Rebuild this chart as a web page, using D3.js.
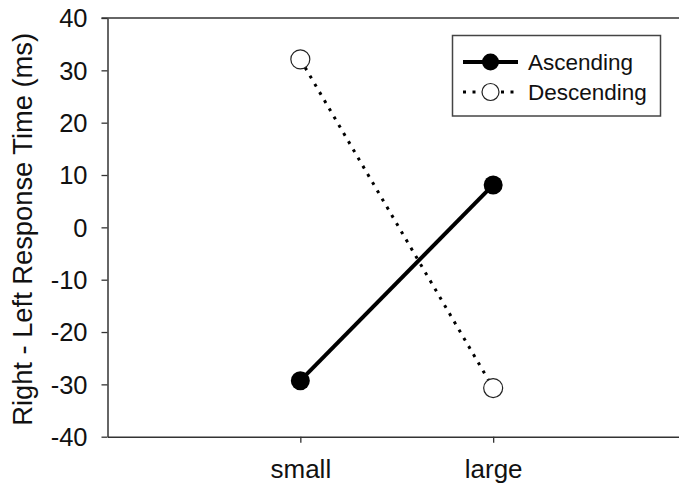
<!DOCTYPE html>
<html>
<head>
<meta charset="utf-8">
<script src="https://cdn.jsdelivr.net/npm/d3@7"></script>
<style>
    body { margin: 0; background: #fff; }
    svg { display: block; font-family: "Liberation Sans", Arial, sans-serif; }
</style>
</head>
<body>
<script>
const categories = ["small", "large"];
const seriesNames = ["Ascending", "Descending"];
const ascendingValues = [-29.3, 8.1];
const descendingValues = [32.1, -30.7];
const yTicks = [40, 30, 20, 10, 0, -10, -20, -30, -40];

const width = 679;
const height = 487;

const svg = d3.select("body").append("svg")
    .attr("width", width)
    .attr("height", height);

const x = d3.scalePoint()
    .domain(categories)
    .range([107.5, 686])
    .padding(1);

const y = d3.scaleLinear()
    .domain([-40, 40])
    .range([436.7, 18]);

// axes
let yAxis = svg.append("g")
    .attr("transform", "translate(107.5,0)")
    .call(d3.axisLeft(y)
        .tickValues(yTicks)
        .tickFormat(d => String(d))
        .tickSize(6).tickPadding(14).tickSizeOuter(0));

yAxis.select(".domain").attr("stroke", "#333").attr("stroke-width", 1.5);
yAxis.selectAll(".tick line").attr("stroke", "#333").attr("stroke-width", 1.3);
yAxis.selectAll(".tick text")
    .attr("fill", "#111")
    .style("font-size", "25.5px")
    .attr("dy", "0.35em");

let xAxis = svg.append("g")
    .attr("transform", "translate(0," + y(-40) + ")")
    .call(d3.axisBottom(x).tickSize(6).tickPadding(17).tickSizeOuter(0));

xAxis.select(".domain").attr("stroke", "#333").attr("stroke-width", 1.5);
xAxis.selectAll(".tick line").attr("stroke", "#333").attr("stroke-width", 1.3);
xAxis.selectAll(".tick text")
    .attr("fill", "#111")
    .style("font-size", "26px");

// top frame line
svg.append("line")
    .attr("x1", 101.5).attr("x2", width)
    .attr("y1", y(40)).attr("y2", y(40))
    .attr("stroke", "#333").attr("stroke-width", 1.5);

// y axis title
svg.append("text")
    .attr("transform", "translate(32," + (y(0) + 2) + ") rotate(-90)")
    .attr("text-anchor", "middle")
    .attr("fill", "#111")
    .style("font-size", "27.3px")
    .text("Right - Left Response Time (ms)");

const line = d3.line()
    .x((d, i) => x(categories[i]))
    .y(d => y(d));

// descending (dotted, open circles)
svg.append("path")
    .datum(descendingValues)
    .attr("d", line)
    .attr("fill", "none")
    .attr("stroke", "#000")
    .attr("stroke-width", 3)
    .attr("stroke-dasharray", "3,6.5");

// ascending (solid, filled circles)
svg.append("path")
    .datum(ascendingValues)
    .attr("d", line)
    .attr("fill", "none")
    .attr("stroke", "#000")
    .attr("stroke-width", 4);

svg.append("g").selectAll("circle")
    .data(descendingValues)
    .enter().append("circle")
    .attr("cx", (d, i) => x(categories[i]))
    .attr("cy", d => y(d))
    .attr("r", 9.5)
    .attr("fill", "#fff")
    .attr("stroke", "#222")
    .attr("stroke-width", 1.2);

svg.append("g").selectAll("circle")
    .data(ascendingValues)
    .enter().append("circle")
    .attr("cx", (d, i) => x(categories[i]))
    .attr("cy", d => y(d))
    .attr("r", 9.5)
    .attr("fill", "#000");

// legend
let legend = svg.append("g");

legend.append("rect")
    .attr("x", 452.5).attr("y", 35.5)
    .attr("width", 208).attr("height", 80.5)
    .attr("fill", "#fff")
    .attr("stroke", "#444")
    .attr("stroke-width", 1.5);

const legendRows = [
    { name: seriesNames[0], y: 62, dash: null, width: 4, fill: "#000", stroke: "none" },
    { name: seriesNames[1], y: 92, dash: "3,6.5", width: 3, fill: "#fff", stroke: "#222" }
];

legendRows.forEach(function (row) {
    legend.append("line")
        .attr("x1", 463).attr("x2", 518)
        .attr("y1", row.y).attr("y2", row.y)
        .attr("stroke", "#000")
        .attr("stroke-width", row.width)
        .attr("stroke-dasharray", row.dash);

    legend.append("circle")
        .attr("cx", 490.5).attr("cy", row.y)
        .attr("r", 8.5)
        .attr("fill", row.fill)
        .attr("stroke", row.stroke)
        .attr("stroke-width", 1.2);

    legend.append("text")
        .attr("x", 528).attr("y", row.y)
        .attr("dy", "0.35em")
        .attr("fill", "#111")
        .style("font-size", "22.5px")
        .text(row.name);
});
</script>
</body>
</html>
